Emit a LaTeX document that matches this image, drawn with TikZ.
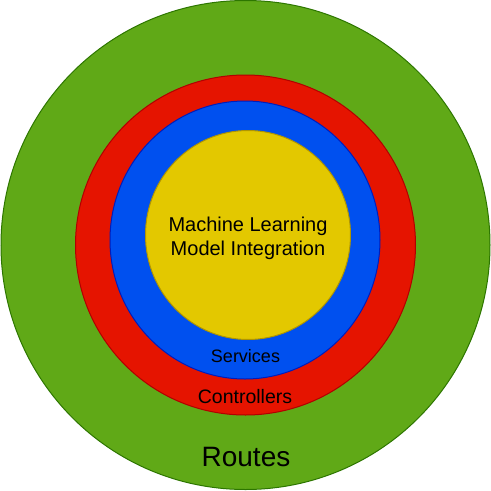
\documentclass[tikz,border=0pt]{standalone}
\usepackage{fontspec}
\setmainfont{Liberation Sans}
\usetikzlibrary{shapes.geometric}
\definecolor{gfill}{HTML}{60A917}
\definecolor{gline}{HTML}{2D7600}
\definecolor{rfill}{HTML}{E51400}
\definecolor{rline}{HTML}{B20000}
\definecolor{bfill}{HTML}{0050EF}
\definecolor{bline}{HTML}{001DBC}
\definecolor{yfill}{HTML}{E3C800}
\definecolor{yline}{HTML}{B09500}
\begin{document}
\begin{tikzpicture}[x=1pt,y=-1pt,
  layer/.style={ellipse,inner sep=0pt,outer sep=0pt,line width=1pt},
  lbl/.style={anchor=base,inner sep=0pt,text=black}]
\useasboundingbox (0,0) rectangle (491,491);
\node[layer,draw=gline,fill=gfill,minimum width=489pt,minimum height=489pt] (routes) at (245.5,245) {};
\node[layer,draw=rline,fill=rfill,minimum width=340pt,minimum height=340pt] (controllers) at (245.5,245) {};
\node[layer,draw=bline,fill=bfill,minimum width=270pt,minimum height=278pt] (services) at (245,240) {};
\node[layer,draw=yline,fill=yfill,minimum width=205pt,minimum height=209pt] (core) at (248,235) {};
\node[lbl,font=\fontsize{20}{24}\selectfont] (ml1) at (248,231.7) {Machine Learning};
\node[lbl,font=\fontsize{20}{24}\selectfont] (ml2) at (248,255.7) {Model Integration};
\node[lbl,font=\fontsize{18}{22}\selectfont] (svc) at (245.5,362.7) {Services};
\node[lbl,font=\fontsize{19.5}{23}\selectfont] (ctl) at (245,403.3) {Controllers};
\node[lbl,font=\fontsize{28}{33}\selectfont] (rts) at (246,466.7) {Routes};
\end{tikzpicture}
\end{document}
